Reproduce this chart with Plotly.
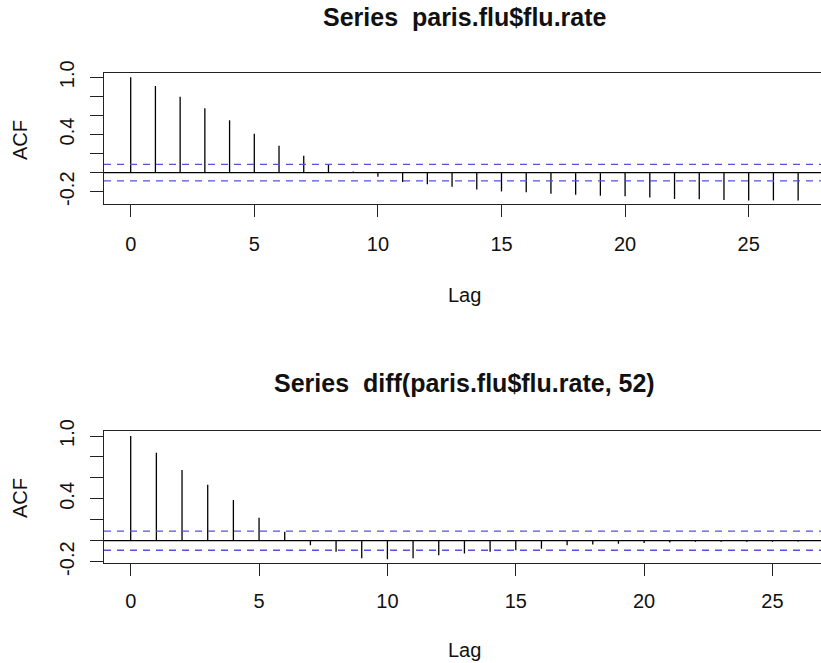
import plotly.graph_objects as go

# ---- data ----
lags_top = list(range(28))
acf_top = [1.0, 0.909, 0.797, 0.675, 0.549, 0.408, 0.282, 0.177, 0.087, 0.012,
           -0.043, -0.099, -0.122, -0.148, -0.176, -0.197, -0.207, -0.221, -0.232,
           -0.242, -0.247, -0.260, -0.276, -0.280, -0.288, -0.291, -0.291, -0.291]
ci_top = 0.086

lags_bot = list(range(27))
acf_bot = [1.0, 0.840, 0.675, 0.535, 0.389, 0.220, 0.085, -0.043, -0.105, -0.168,
           -0.177, -0.168, -0.138, -0.122, -0.106, -0.090, -0.077, -0.043, -0.035,
           -0.029, -0.022, -0.016, -0.011, -0.010, -0.010, -0.010, -0.008]
ci_bot = 0.091

x_tickvals = [0, 5, 10, 15, 20, 25]
y_tickvals = [-0.2, 0.0, 0.2, 0.4, 0.6, 0.8, 1.0]
y_ticktext = ["-0.2", "", "", "0.4", "", "", "1.0"]

title_top = "Series  paris.flu$flu.rate"
title_bot = "Series  diff(paris.flu$flu.rate, 52)"
xlab = "Lag"
ylab = "ACF"

W, H = 821, 663
FONT = "Liberation Sans, Arial, Helvetica, sans-serif"


def stems(lags, vals):
    xs, ys = [], []
    for l, v in zip(lags, vals):
        xs += [l, l, None]
        ys += [0, v, None]
    return xs, ys


fig = go.Figure()
xs, ys = stems(lags_top, acf_top)
fig.add_trace(go.Scatter(x=xs, y=ys, mode="lines", xaxis="x", yaxis="y",
                         line=dict(color="black", width=1.3), hoverinfo="skip",
                         showlegend=False))
xs, ys = stems(lags_bot, acf_bot)
fig.add_trace(go.Scatter(x=xs, y=ys, mode="lines", xaxis="x2", yaxis="y2",
                         line=dict(color="black", width=1.3), hoverinfo="skip",
                         showlegend=False))

shapes = []
for xr, yr, ci in (("x", "y", ci_top), ("x2", "y2", ci_bot)):
    shapes.append(dict(type="line", xref=xr + " domain", yref=yr, x0=0, x1=1, y0=0, y1=0,
                       line=dict(color="black", width=1.3)))
    for s in (1, -1):
        shapes.append(dict(type="line", xref=xr + " domain", yref=yr, x0=0, x1=1,
                           y0=s * ci, y1=s * ci,
                           line=dict(color="#5252dc", width=1.3, dash="7px,6px")))

axis_common = dict(showgrid=False, zeroline=False, showline=True, mirror=True,
                   linecolor="#222222", linewidth=1.3, ticks="outside",
                   tickcolor="#222222", tickwidth=1.3, automargin=False,
                   tickfont=dict(family=FONT, size=20, color="#111111"))

x0 = 104 / W
fig.update_layout(
    width=W, height=H,
    margin=dict(l=0, r=0, t=0, b=0, pad=0, autoexpand=False),
    paper_bgcolor="white", plot_bgcolor="white",
    showlegend=False,
    font=dict(family=FONT, size=20, color="#111111"),
    xaxis=dict(domain=[x0, 1], anchor="y", range=[-1.08, 27.925],
               tickvals=x_tickvals, ticklen=12, ticklabelstandoff=10, **axis_common),
    yaxis=dict(domain=[1 - 204 / H, 1 - 73 / H], anchor="x", range=[-0.329, 1.045],
               tickvals=y_tickvals, ticktext=y_ticktext, tickangle=-90,
               ticklen=13, ticklabelstandoff=8, **axis_common),
    xaxis2=dict(domain=[x0, 1], anchor="y2", range=[-1.04, 26.89],
                tickvals=x_tickvals, ticklen=12, ticklabelstandoff=8, **axis_common),
    yaxis2=dict(domain=[1 - 562.7 / H, 1 - 431 / H], anchor="x2", range=[-0.21, 1.048],
                tickvals=y_tickvals, ticktext=y_ticktext, tickangle=-90,
                ticklen=13, ticklabelstandoff=8, **axis_common),
    shapes=shapes,
)

def ann(text, xpx, ypx, size=20, bold=False, angle=0):
    return dict(text=("<b>%s</b>" % text) if bold else text,
                x=xpx / W, y=1 - ypx / H, xref="paper", yref="paper",
                xanchor="center", yanchor="middle", showarrow=False,
                textangle=angle, font=dict(family=FONT, size=size, color="#111111"))

fig.update_layout(annotations=[
    ann(title_top, 464.5, 17, size=25, bold=True),
    ann(xlab, 464.5, 295),
    ann(ylab, 20, 140, angle=-90),
    ann(title_bot, 464.5, 383, size=25, bold=True),
    ann(xlab, 464.5, 650),
    ann(ylab, 20, 498, angle=-90),
])

fig.write_html("out.html", config={"displayModeBar": False},
               post_script="document.body.style.margin='0px';document.body.style.overflow='hidden';")
